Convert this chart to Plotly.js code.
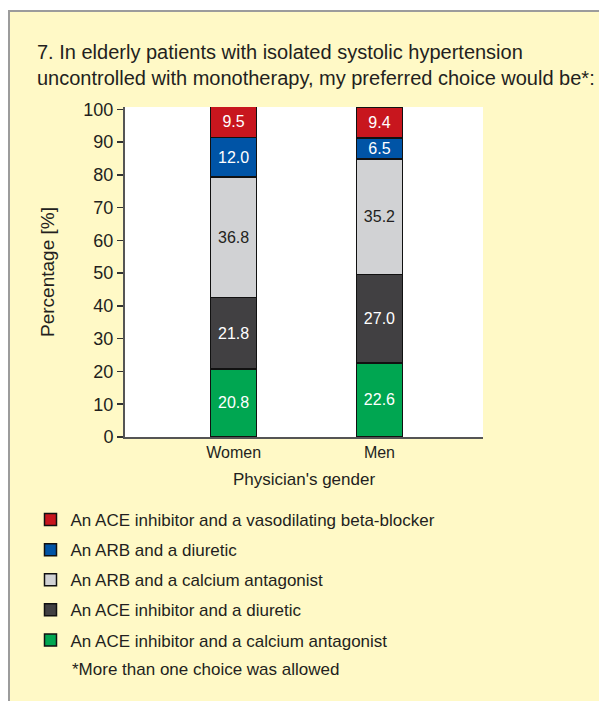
<!DOCTYPE html>
<html>
<head>
<meta charset="utf-8">
<script src="https://cdn.plot.ly/plotly-3.0.1.min.js"></script>
<style>
  html, body { margin: 0; padding: 0; background: #ffffff; }
  #wrap { position: absolute; left: 8px; top: 10px; width: 589px; height: 689px;
          border-top: 2px solid #9c9c9c; border-left: 2px solid #9c9c9c; background: #fff9c6; }
  #chart { width: 589px; height: 689px; }
</style>
</head>
<body>
<div id="wrap"><div id="chart"></div></div>
<script>
// ---- data ----
const categories = ['Women', 'Men'];
const seriesNames = [
  'An ACE inhibitor and a calcium antagonist',
  'An ACE inhibitor and a diuretic',
  'An ARB and a calcium antagonist',
  'An ARB and a diuretic',
  'An ACE inhibitor and a vasodilating beta-blocker'
];
const aceCalcium = [20.8, 22.6];
const aceDiuretic = [21.8, 27.0];
const arbCalcium = [36.8, 35.2];
const arbDiuretic = [12.0, 6.5];
const aceBetaBlocker = [9.5, 9.4];
const yTicks = [0, 10, 20, 30, 40, 50, 60, 70, 80, 90, 100];
const titleText = '7. In elderly patients with isolated systolic hypertension<br>uncontrolled with monotherapy, my preferred choice would be*:';
const footnote = '*More than one choice was allowed';

// ---- styles ----
const seriesValues = [aceCalcium, aceDiuretic, arbCalcium, arbDiuretic, aceBetaBlocker];
const colors = ['#00a651', '#414042', '#d1d2d4', '#0054a6', '#c8161e'];
const textColors = ['#ffffff', '#ffffff', '#231f20', '#ffffff', '#ffffff'];
const FONT = 'Liberation Sans, Arial, sans-serif';
const INK = '#231f20';

const traces = seriesValues.map((vals, i) => ({
  type: 'bar',
  name: seriesNames[i],
  x: categories,
  y: vals,
  width: 0.315,
  marker: { color: colors[i], line: { color: '#111111', width: 1.5 } },
  text: vals.map(v => v.toFixed(1)),
  textposition: 'inside',
  insidetextanchor: 'middle',
  constraintext: 'none',
  textfont: { family: FONT, size: 16, color: textColors[i] },
  hoverinfo: 'skip',
  legendgroup: 'g' + i,
  legendrank: seriesValues.length - i
}));

const layout = {
  width: 589,
  height: 689,
  paper_bgcolor: 'rgba(0,0,0,0)',
  plot_bgcolor: '#ffffff',
  barmode: 'stack',
  margin: { l: 115, r: 116, t: 95, b: 264 },
  font: { family: FONT, color: INK },
  title: {
    text: titleText,
    font: { family: FONT, size: 20, color: INK },
    xref: 'container', x: 27 / 589, xanchor: 'left',
    yref: 'container', y: 1 - 47 / 689, yanchor: 'top',
    pad: { t: 0, b: 0, l: 0, r: 0 }
  },
  xaxis: {
    type: 'category',
    range: [-0.745, 1.71],
    showline: true, linecolor: '#555555', linewidth: 2,
    ticks: '', showgrid: false, zeroline: false,
    tickfont: { family: FONT, size: 16, color: INK },
    title: { text: "Physician's gender", font: { family: FONT, size: 17, color: INK }, standoff: 13 }
  },
  yaxis: {
    range: [0, 100.7],
    tickvals: yTicks,
    ticktext: yTicks.map(String),
    showline: true, linecolor: '#555555', linewidth: 2,
    ticks: 'outside', ticklen: 6, tickwidth: 1.5, tickcolor: '#333333',
    showgrid: false, zeroline: false,
    tickfont: { family: FONT, size: 18, color: INK },
    title: { text: 'Percentage [%]', font: { family: FONT, size: 19, color: INK }, standoff: 24 }
  },
  showlegend: true,
  legend: {
    x: (20.5 - 115) / 358, xanchor: 'left',
    y: (425 - 490) / 330, yanchor: 'top',
    traceorder: 'grouped',
    tracegroupgap: 5,
    bgcolor: 'rgba(0,0,0,0)',
    font: { family: FONT, size: 17, color: INK }
  },
  annotations: [{
    text: footnote, showarrow: false,
    xref: 'paper', yref: 'paper',
    x: (60 - 115) / 358, xanchor: 'left',
    y: (425 - 657) / 330, yanchor: 'middle',
    font: { family: FONT, size: 17, color: INK }
  }]
};

Plotly.newPlot('chart', traces, layout, { displayModeBar: false, staticPlot: true });
</script>
</body>
</html>
